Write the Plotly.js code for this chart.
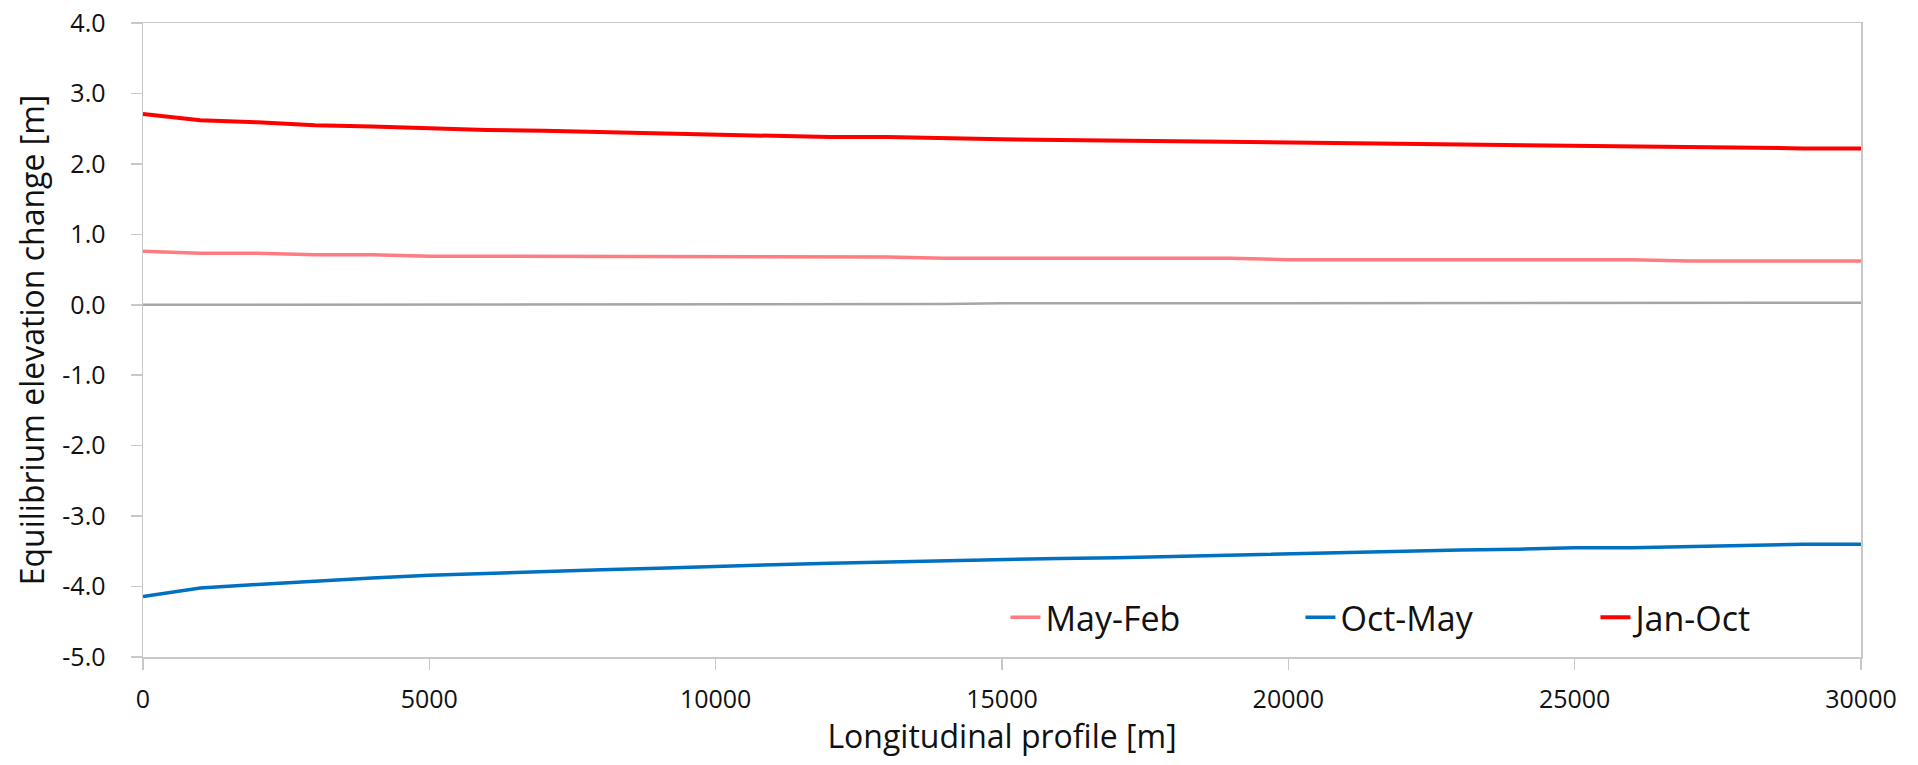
<!DOCTYPE html>
<html>
<head>
<meta charset="utf-8">
<script src="https://cdn.plot.ly/plotly-3.0.1.min.js"></script>
<style>
  html, body { margin: 0; padding: 0; background: #fff; }
  #chart { width: 1918px; height: 765px; }
</style>
</head>
<body>
<div id="chart"></div>
<script>
// Longitudinal profile positions [m]
const distance = [0,1000,2000,3000,4000,5000,6000,7000,8000,9000,10000,11000,12000,13000,14000,15000,16000,17000,18000,19000,20000,21000,22000,23000,24000,25000,26000,27000,28000,29000,30000];

// Equilibrium elevation change [m]
const mayFeb = [0.76,0.73,0.73,0.71,0.71,0.69,0.69,0.69,0.69,0.68,0.68,0.68,0.68,0.68,0.66,0.66,0.66,0.66,0.66,0.66,0.64,0.64,0.64,0.64,0.64,0.64,0.64,0.62,0.62,0.62,0.62];
const octMay = [-4.14,-4.02,-3.97,-3.92,-3.88,-3.84,-3.81,-3.78,-3.76,-3.74,-3.71,-3.69,-3.67,-3.65,-3.64,-3.62,-3.60,-3.59,-3.57,-3.55,-3.53,-3.52,-3.50,-3.48,-3.47,-3.45,-3.45,-3.43,-3.42,-3.40,-3.40];
const janOct = [2.71,2.62,2.59,2.55,2.53,2.50,2.48,2.47,2.45,2.43,2.41,2.40,2.38,2.38,2.36,2.35,2.34,2.33,2.32,2.31,2.30,2.29,2.28,2.27,2.26,2.25,2.24,2.23,2.22,2.22,2.22];
const reference = [0.00,0.00,0.00,0.00,0.00,0.00,0.01,0.01,0.01,0.01,0.01,0.01,0.01,0.01,0.01,0.02,0.02,0.02,0.02,0.02,0.02,0.02,0.02,0.02,0.02,0.03,0.03,0.03,0.03,0.03,0.03];

const seriesNames = ['May-Feb','Oct-May','Jan-Oct'];
const yTickVals = [-5,-4,-3,-2,-1,0,1,2,3,4];
const yTickText = ['-5.0','-4.0','-3.0','-2.0','-1.0','0.0','1.0','2.0','3.0','4.0'];
const xTickVals = [0,5000,10000,15000,20000,25000,30000];
const xTickText = ['0','5000','10000','15000','20000','25000','30000'];

const font = '"Open Sans", "Noto Sans", sans-serif';

const traces = [
  {x: distance, y: reference, type: 'scatter', mode: 'lines', showlegend: false, hoverinfo: 'skip',
   line: {color: '#a6a6a6', width: 2.5}},
  {x: distance, y: mayFeb, type: 'scatter', mode: 'lines', name: seriesNames[0],
   line: {color: '#ff7c80', width: 3.5}},
  {x: distance, y: octMay, type: 'scatter', mode: 'lines', name: seriesNames[1],
   line: {color: '#0070c0', width: 3.5}},
  {x: distance, y: janOct, type: 'scatter', mode: 'lines', name: seriesNames[2],
   line: {color: '#ff0000', width: 4}}
];

const layout = {
  width: 1918, height: 765,
  margin: {l: 143, r: 57, t: 23, b: 108, pad: 0},
  paper_bgcolor: '#ffffff', plot_bgcolor: '#ffffff',
  font: {family: font, size: 25, color: '#111111'},
  showlegend: true,
  legend: {
    orientation: 'h', x: 0.502, xanchor: 'left', y: 0.062, yanchor: 'middle',
    bgcolor: 'rgba(0,0,0,0)', font: {family: font, size: 34, color: '#111111'},
    entrywidth: 250, entrywidthmode: 'pixels', traceorder: 'normal'
  },
  xaxis: {
    range: [0, 30000], tickmode: 'array', tickvals: xTickVals, ticktext: xTickText,
    showgrid: false, zeroline: false,
    showline: true, linecolor: '#c8c8c8', linewidth: 1.5, mirror: true,
    ticks: 'outside', ticklen: 11, tickcolor: '#c8c8c8', tickwidth: 1.5,
    ticklabelstandoff: 8,
    tickfont: {family: font, size: 25, color: '#111111'},
    title: {text: 'Longitudinal profile [m]', font: {family: font, size: 32, color: '#111111'}, standoff: 11}
  },
  yaxis: {
    range: [-5, 4], tickmode: 'array', tickvals: yTickVals, ticktext: yTickText,
    showgrid: false, zeroline: false,
    showline: true, linecolor: '#c8c8c8', linewidth: 1.5, mirror: true,
    ticks: 'outside', ticklen: 11, tickcolor: '#c8c8c8', tickwidth: 1.5,
    ticklabelstandoff: 20,
    tickfont: {family: font, size: 25, color: '#111111'},
    title: {text: 'Equilibrium elevation change [m]', font: {family: font, size: 32, color: '#111111'}, standoff: 8}
  }
};

Plotly.newPlot('chart', traces, layout, {displayModeBar: false, staticPlot: true});
</script>
</body>
</html>
